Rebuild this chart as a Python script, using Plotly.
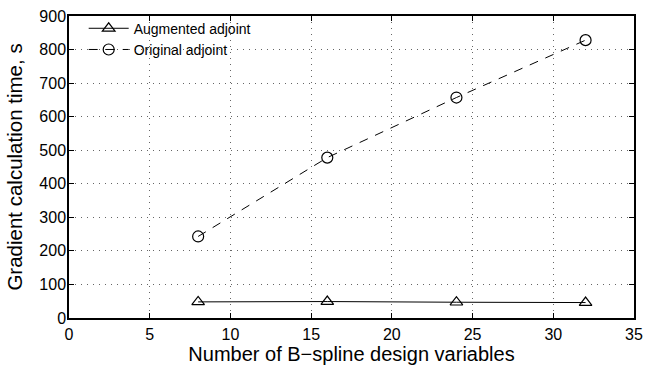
import plotly.graph_objects as go

# Number of B-spline design variables
design_vars = [8, 16, 24, 32]
# Gradient calculation time in seconds
augmented_time = [48, 49, 47, 46]
original_time = [243, 478, 657, 828]

x_ticks = [0, 5, 10, 15, 20, 25, 30, 35]
y_ticks = [0, 100, 200, 300, 400, 500, 600, 700, 800, 900]

font_family = "Liberation Sans, Arial, Helvetica, sans-serif"

fig = go.Figure()
fig.add_trace(go.Scatter(
    x=design_vars, y=augmented_time, name="Augmented adjoint",
    mode="lines+markers",
    line=dict(color="black", width=1),
    marker=dict(symbol="triangle-up-open", size=11, color="black",
                line=dict(width=1.2)),
))
fig.add_trace(go.Scatter(
    x=design_vars, y=original_time, name="Original adjoint",
    mode="lines+markers",
    line=dict(color="black", width=1, dash="9px,8px"),
    marker=dict(symbol="circle-open", size=11, color="black",
                line=dict(width=1.2)),
))

axis_common = dict(
    showline=True, linecolor="black", linewidth=1.5, mirror="allticks",
    ticks="inside", ticklen=5, tickcolor="black", tickwidth=1,
    showgrid=True, gridcolor="#666666", gridwidth=1, griddash="1px,5px",
    zeroline=False, automargin=False,
    tickfont=dict(family=font_family, size=16, color="black"),
)

fig.update_xaxes(
    range=[0, 35], tickvals=x_ticks, ticklabelstandoff=1,
    title=dict(text="Number of B\u2212spline design variables",
               font=dict(family=font_family, size=20, color="black"),
               standoff=4),
    **axis_common,
)
fig.update_yaxes(
    range=[0, 900], tickvals=y_ticks, ticklabelstandoff=-2,
    title=dict(text="Gradient calculation time, s",
               font=dict(family=font_family, size=20.5, color="black"),
               standoff=11),
    **axis_common,
)

fig.update_layout(
    width=653, height=365,
    margin=dict(l=69, r=19, t=16, b=47),
    plot_bgcolor="white", paper_bgcolor="white",
    showlegend=True,
    legend=dict(
        x=0.026, y=1.011, xanchor="left", yanchor="top",
        bgcolor="rgba(255,255,255,0)", borderwidth=0,
        font=dict(family=font_family, size=14, color="black"),
        itemwidth=40, tracegroupgap=0,
    ),
)

fig.write_html("out.html")
